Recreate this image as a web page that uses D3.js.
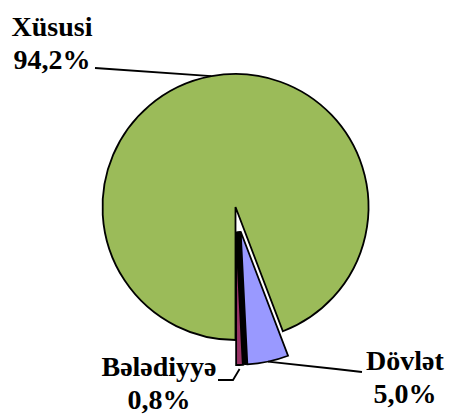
<!DOCTYPE html>
<html>
<head>
<meta charset="utf-8">
<script src="https://cdn.jsdelivr.net/npm/d3@7"></script>
<style>
    body { margin: 0; background: #fff; }
    text { font-family: "Liberation Serif", "Times New Roman", serif; font-weight: bold; font-size: 28px; fill: #000; }
</style>
</head>
<body>
<div id="chart"></div>
<script>
// share of ownership types
const categories = ["Xüsusi", "Dövlət", "Bələdiyyə"];
const values = [94.2, 5.0, 0.8];
const valueLabels = ["94,2%", "5,0%", "0,8%"];
const colors = ["#9bbb59", "#9999ff", "#993366"];
const exploded = [0, 25, 25];

const width = 449, height = 418;
const cx = 235.5, cy = 207, r = 133;

const svg = d3.select("#chart")
    .append("svg")
    .attr("width", width)
    .attr("height", height);

const pie = d3.pie()
    .sort(null)
    .startAngle(Math.PI)
    .endAngle(3 * Math.PI);

const arcs = pie(values);

const arc = d3.arc()
    .innerRadius(0)
    .outerRadius(r);

// offset of a slice along its bisector
function shift(d, i) {
    const a = (d.startAngle + d.endAngle) / 2;
    return [cx + exploded[i] * Math.sin(a), cy - exploded[i] * Math.cos(a)];
}

function along(o, a, len) {
    return [o[0] + len * Math.sin(a), o[1] - len * Math.cos(a)];
}

// point on the outer edge at the bisector
function edgePoint(d, i, extra) {
    const a = (d.startAngle + d.endAngle) / 2;
    return along(shift(d, i), a, r + extra);
}

const container = svg.append("g");

// dark seam between the two pulled-out slices
const seamAngle = arcs[1].endAngle;
const pB = shift(arcs[1], 1), pR = shift(arcs[2], 2);
container.append("path")
    .attr("d", d3.line()([pB, along(pB, seamAngle, r), along(pR, seamAngle, r), pR]) + "Z")
    .attr("fill", "#000")
    .attr("stroke", "#000")
    .attr("stroke-width", 1);

container.selectAll("path.slice")
    .data(arcs)
    .enter().append("path")
    .attr("class", "slice")
    .attr("d", arc)
    .attr("transform", (d, i) => {
        const [x, y] = shift(d, i);
        return `translate(${x},${y})`;
    })
    .attr("fill", (d, i) => colors[i])
    .attr("stroke", "#000")
    .attr("stroke-width", 1.8)
    .attr("stroke-linejoin", "miter");

// labels (two lines each)
const labelPos = [
    { x: 52, y: 36 },
    { x: 405, y: 370 },
    { x: 159, y: 376 }
];

const labels = svg.append("g");
labelPos.forEach((p, i) => {
    const t = labels.append("text")
        .attr("x", p.x)
        .attr("y", p.y)
        .attr("text-anchor", "middle");
    t.append("tspan").attr("x", p.x).text(categories[i]);
    t.append("tspan").attr("x", p.x).attr("dy", 33).text(valueLabels[i]);
});

// leader lines
const line = d3.line();
const leaders = [
    [[95, 68], edgePoint(arcs[0], 0, 0)],
    [[362, 372], [336, 369], edgePoint(arcs[1], 1, 0)],
    [[218, 380], [233, 380], edgePoint(arcs[2], 2, 4)]
];

svg.append("g")
    .selectAll("path")
    .data(leaders)
    .enter().append("path")
    .attr("d", d => line(d))
    .attr("fill", "none")
    .attr("stroke", "#000")
    .attr("stroke-width", 1.8);
</script>
</body>
</html>
